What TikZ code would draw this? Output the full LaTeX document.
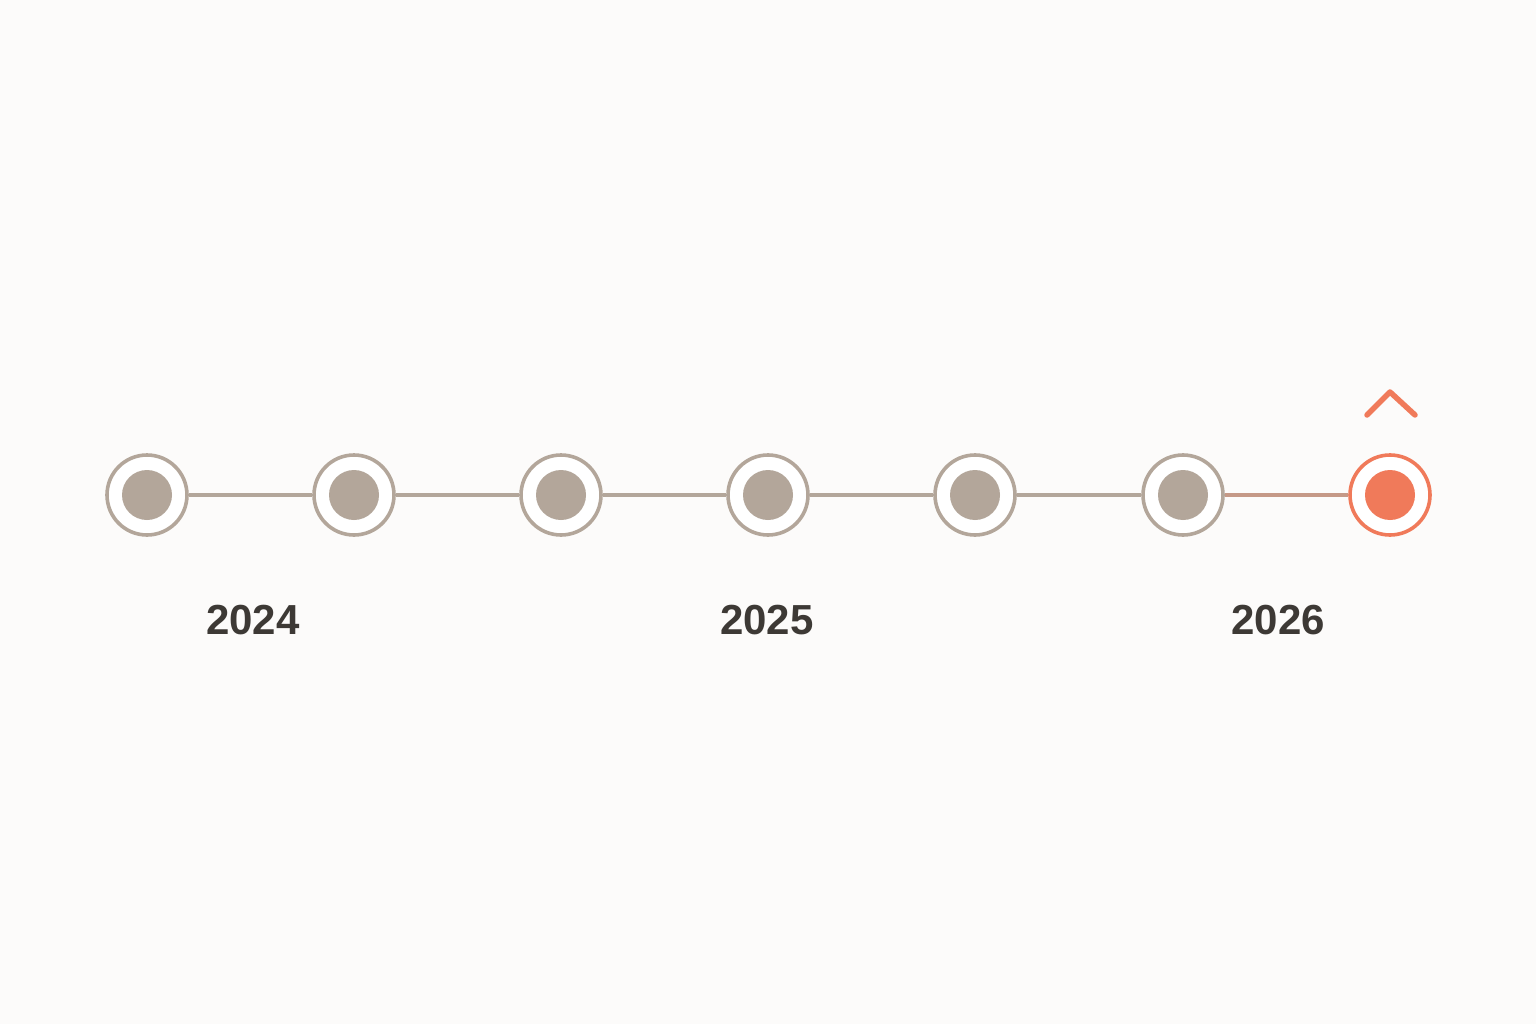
\documentclass[tikz,border=0pt]{standalone}
\usepackage{fontspec}
\setmainfont{Liberation Sans}
\usepackage{tikz}
\usetikzlibrary{positioning}
\definecolor{stone}{HTML}{B3A69A}
\definecolor{coral}{HTML}{F07A5A}
\definecolor{ink}{HTML}{3D3935}
\definecolor{paper}{HTML}{FCFBFA}
\tikzset{
  evt/.style={circle,draw=stone,line width=3.6pt,fill=white,minimum size=80pt,inner sep=0pt},
  dot/.style={circle,fill=stone,minimum size=50pt,inner sep=0pt},
  year/.style={text=ink,font=\fontsize{42}{42}\selectfont\bfseries}
}
\begin{document}
\begin{tikzpicture}[x=1pt,y=-1pt]
    \fill[paper] (0,0) rectangle (1536,1024);
    \useasboundingbox (0,0) rectangle (1536,1024);
    %
    \foreach \i/\x in {1/147,2/354,3/561,4/768,5/975,6/1183}{
      \node[evt] (e\i) at (\x,495) {};
      \node[dot] (d\i) at (e\i) {};
    }
    \node[evt,draw=coral] (e7) at (1390,495) {};
    \node[dot,fill=coral] (d7) at (e7) {};
    %
    \foreach \a/\b in {1/2,2/3,3/4,4/5,5/6}{
      \draw[stone,line width=3.4pt] (e\a) -- (e\b);
    }
    \draw[stone!70!coral,line width=3.4pt] (e6) -- (e7);
    %
    \coordinate (c1) at (1367,415);
    \coordinate (c2) at (1390,392);
    \coordinate (c3) at (1415,415);
    \draw[coral,line width=5.5pt,line cap=round,line join=round] (c1) -- (c2) -- (c3);
    %
    \node[year] (y1) at (253,620) {2024};
    \node[year] (y2) at (767,620) {2025};
    \node[year] (y3) at (1278,620) {2026};
  \end{tikzpicture}
\end{document}
